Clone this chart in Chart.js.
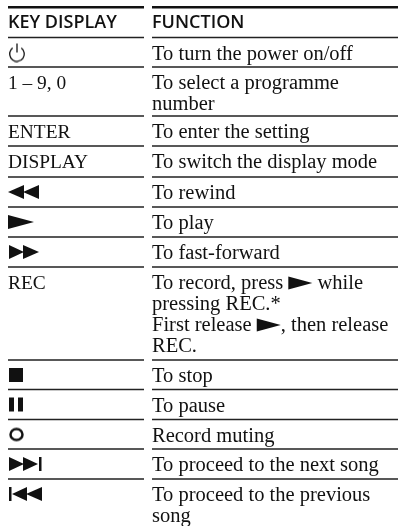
<!DOCTYPE html>
<html lang="en">
  <head>
    <title>Key display</title>
    <meta charset="utf-8" />
    <script src="https://cdn.jsdelivr.net/npm/chart.js"></script>
    <style>
      html, body { margin: 0; padding: 0; background: #fff; }
      #wrap { width: 398px; height: 526px; }
    </style>
  </head>
  <body>
    <div id="wrap"><canvas id="table"></canvas></div>
    <script>
      // table content. "►" in a line is the play mark
      const headers = ["KEY DISPLAY", "FUNCTION"];
      const keyLabels = ["", "1 – 9, 0", "ENTER", "DISPLAY", "", "", "", "REC", "", "", "", "", ""];
      const keySymbols = ["power", "", "", "", "rewind", "play", "forward", "", "stop", "pause", "record", "next", "previous"];
      const functionLines = [
        ["To turn the power on/off"],
        ["To select a programme", "number"],
        ["To enter the setting"],
        ["To switch the display mode"],
        ["To rewind"],
        ["To play"],
        ["To fast-forward"],
        ["To record, press ► while", "pressing REC.*", "First release ►, then release", "REC."],
        ["To stop"],
        ["To pause"],
        ["Record muting"],
        ["To proceed to the next song"],
        ["To proceed to the previous", "song"],
      ];
      // rule heights, top to bottom
      const topRule = 7.2;
      const rowRules = [37.5, 67, 116, 146, 177, 207, 237, 267, 360, 389.5, 419.5, 449, 479];

      const W = 398, H = 526;
      const keyLeft = 8, keyRight = 144, fnLeft = 152, fnRight = 398;
      const bodyFont = "20.5px 'Liberation Serif'";
      const keyFont = "19.4px 'Liberation Serif'";
      const headFont = "600 18px 'Open Sans'";
      const lineStep = 21;

      function tri(ctx, x0, x1, cy, h) {
        ctx.beginPath();
        ctx.moveTo(x0, cy - h);
        ctx.lineTo(x1, cy);
        ctx.lineTo(x0, cy + h);
        ctx.closePath();
        ctx.fill();
      }

      const symbolPainters = {
        power(c) {
          c.lineWidth = 1.3;
          c.strokeStyle = "#111";
          c.beginPath();
          c.arc(9, 11.5, 7.3, -Math.PI * 0.3, Math.PI * 1.3);
          c.stroke();
          c.beginPath();
          c.moveTo(9, 1);
          c.lineTo(9, 10);
          c.stroke();
        },
        rewind(c) { tri(c, 16, 0, 8, 7); tri(c, 31, 15, 8, 7); },
        play(c) { tri(c, 0, 26, 8, 7); },
        forward(c) { tri(c, 1, 16, 8, 7); tri(c, 15, 31, 8, 7); },
        stop(c) { c.fillRect(1, 1, 14, 14); },
        pause(c) { c.fillRect(1, 1, 5, 14); c.fillRect(10, 1, 5, 14); },
        record(c) {
          c.lineWidth = 2.5;
          c.strokeStyle = "#111";
          c.beginPath();
          c.ellipse(8.5, 8, 6, 5.6, 0, 0, Math.PI * 2);
          c.stroke();
        },
        next(c) { tri(c, 1, 16, 8, 7); tri(c, 15, 30, 8, 7); c.fillRect(31, 1, 2.5, 14); },
        previous(c) { c.fillRect(1, 1, 2.5, 14); tri(c, 19, 4, 8, 7); tri(c, 34, 18, 8, 7); },
      };

      function makeSymbol(name) {
        const cv = document.createElement("canvas");
        cv.width = 34;
        cv.height = name === "power" ? 20 : 16;
        const c = cv.getContext("2d");
        c.fillStyle = "#111";
        symbolPainters[name](c);
        return cv;
      }

      // rule segments, NaN breaks the line between them
      function ruleSegments(ys) {
        const out = [];
        ys.forEach((y) => {
          out.push({ x: keyLeft, y }, { x: keyRight, y }, { x: NaN, y: NaN });
          out.push({ x: fnLeft, y }, { x: fnRight, y }, { x: NaN, y: NaN });
        });
        return out;
      }

      const rowTop = (i) => rowRules[i];
      const symbolPoints = [];
      const symbolStyles = [];
      keySymbols.forEach((name, i) => {
        if (!name) return;
        symbolPoints.push({ x: keyLeft + 17, y: rowTop(i) + 15 });
        symbolStyles.push(makeSymbol(name));
      });

      const textPlugin = {
        id: "tableText",
        afterDatasetsDraw(chart) {
          const ctx = chart.ctx;
          const sx = chart.scales.x;
          const sy = chart.scales.y;
          ctx.save();
          ctx.textBaseline = "alphabetic";
          ctx.fillStyle = "#111";
          ctx.font = headFont;
          ctx.fillText(headers[0], sx.getPixelForValue(keyLeft), sy.getPixelForValue(28));
          ctx.fillText(headers[1], sx.getPixelForValue(fnLeft), sy.getPixelForValue(28));
          ctx.font = keyFont;
          keyLabels.forEach((t, i) => {
            if (t) ctx.fillText(t, sx.getPixelForValue(keyLeft), sy.getPixelForValue(rowTop(i) + 22));
          });
          ctx.font = bodyFont;
          functionLines.forEach((lines, i) => {
            lines.forEach((line, j) => {
              const base = sy.getPixelForValue(rowTop(i) + 22 + j * lineStep);
              let x = sx.getPixelForValue(fnLeft);
              line.split("►").forEach((part, k) => {
                if (k > 0) {
                  tri(ctx, x, x + 24, base - 6, 6.5);
                  x += 24;
                }
                ctx.fillText(part, x, base);
                x += ctx.measureText(part).width;
              });
            });
          });
          ctx.restore();
        },
      };

      new Chart(document.getElementById("table"), {
        type: "scatter",
        data: {
          datasets: [
            {
              label: "top rule",
              data: ruleSegments([topRule]),
              showLine: true,
              spanGaps: false,
              borderColor: "#111",
              borderWidth: 2.6,
              pointRadius: 0,
            },
            {
              label: "row rules",
              data: ruleSegments(rowRules),
              showLine: true,
              spanGaps: false,
              borderColor: "#222",
              borderWidth: 1.5,
              pointRadius: 0,
            },
            {
              label: "key symbols",
              data: symbolPoints,
              pointStyle: symbolStyles,
              pointRadius: 10,
            },
          ],
        },
        options: {
          responsive: true,
          maintainAspectRatio: false,
          animation: false,
          layout: { padding: 0, autoPadding: false },
          plugins: { legend: { display: false }, tooltip: { enabled: false } },
          scales: {
            x: { type: "linear", min: 0, max: W, display: false },
            y: { type: "linear", min: 0, max: H, reverse: true, display: false },
          },
        },
        plugins: [textPlugin],
      });
    </script>
  </body>
</html>
